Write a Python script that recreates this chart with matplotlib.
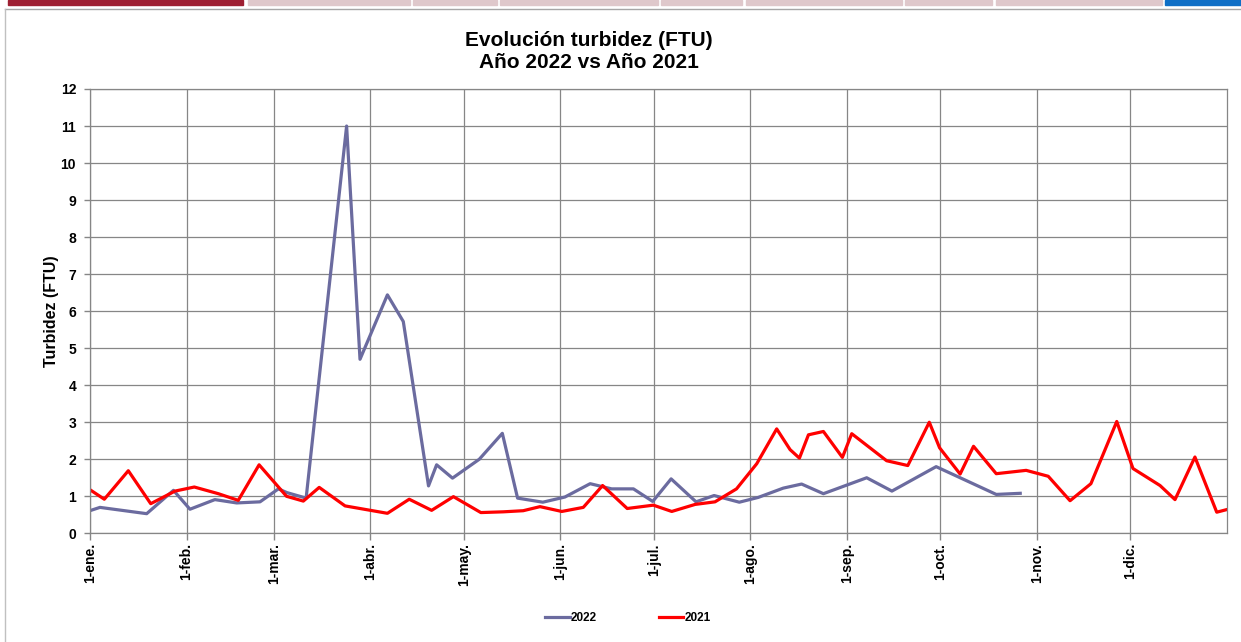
import matplotlib
matplotlib.use("Agg")
import matplotlib.pyplot as plt
from matplotlib.patches import Rectangle
from matplotlib.lines import Line2D

# day of year (0 = 1-ene.) and turbidity readings (FTU)
days_2022 = [0.3, 3.2, 18.2, 26.8, 32.1, 40.1, 47.1, 54.6, 60.5, 63.2, 69.4,
             82.4, 86.7, 95.5, 100.6, 108.7, 111.3, 116.4, 125.0, 132.4,
             137.3, 145.4, 152.5, 160.6, 167.5, 174.5, 180.7, 186.6, 194.6,
             200.4, 208.5, 214.6, 222.6, 228.5, 235.5, 249.4, 257.5, 271.7,
             291.0, 298.7]
turb_2022 = [0.62, 0.70, 0.53, 1.16, 0.65, 0.91, 0.82, 0.85, 1.20, 1.10, 0.95,
             11.0, 4.70, 6.44, 5.72, 1.28, 1.85, 1.49, 2.00, 2.70,
             0.95, 0.84, 0.98, 1.34, 1.20, 1.20, 0.86, 1.47, 0.85,
             1.02, 0.84, 0.97, 1.22, 1.33, 1.07, 1.50, 1.14, 1.80,
             1.05, 1.08]

days_2021 = [0.3, 4.6, 12.3, 19.5, 27.3, 33.5, 41.2, 47.6, 54.3, 63.1, 68.5,
             73.6, 81.9, 95.5, 102.5, 109.7, 116.7, 125.5, 132.7, 139.1,
             144.5, 151.5, 158.4, 164.6, 172.5, 180.9, 186.8, 194.3, 200.7,
             207.6, 214.1, 220.5, 224.8, 227.8, 230.7, 235.5, 241.6, 244.6,
             255.8, 262.6, 269.5, 272.8, 279.4, 283.7, 291.0, 300.6, 307.7,
             314.7, 321.4, 329.7, 334.9, 343.6, 348.4, 354.8, 361.8, 365.0]
turb_2021 = [1.16, 0.92, 1.69, 0.80, 1.14, 1.25, 1.07, 0.89, 1.85, 1.00, 0.87,
             1.24, 0.74, 0.54, 0.92, 0.62, 0.99, 0.56, 0.58, 0.61,
             0.72, 0.59, 0.70, 1.29, 0.67, 0.76, 0.59, 0.78, 0.85,
             1.20, 1.88, 2.82, 2.26, 2.03, 2.66, 2.75, 2.05, 2.69,
             1.96, 1.83, 3.00, 2.31, 1.60, 2.35, 1.61, 1.70, 1.54,
             0.88, 1.34, 3.02, 1.75, 1.29, 0.91, 2.06, 0.57, 0.64]

month_starts = [0, 31, 59, 90, 120, 151, 181, 212, 243, 273, 304, 334]
month_labels = ["1-ene.", "1-feb.", "1-mar.", "1-abr.", "1-may.", "1-jun.",
                "1-jul.", "1-ago.", "1-sep.", "1-oct.", "1-nov.", "1-dic."]

plt.rcParams['font.family'] = ['Liberation Sans', 'DejaVu Sans']
plt.rcParams['font.weight'] = 'bold'

W, H = 1241, 642
fig = plt.figure(figsize=(W / 100, H / 100), dpi=100)
fig.patch.set_facecolor("white")

# sheet tabs strip along the top edge
tabs = [(8, 243, "#9e1f32"), (248, 410, "#dfc8cb"), (413, 497, "#dfc8cb"),
        (500, 658, "#dfc8cb"), (661, 742, "#dfc8cb"), (746, 902, "#dfc8cb"),
        (905, 992, "#dfc8cb"), (996, 1162, "#dfc8cb"), (1165, 1241, "#0f6fc6")]
for x0, x1, col in tabs:
    fig.patches.append(Rectangle((x0 / W, 1 - 5 / H), (x1 - x0) / W, 5 / H,
                                 transform=fig.transFigure, color=col))
fig.lines.append(Line2D([5 / W, 1], [1 - 8.5 / H, 1 - 8.5 / H],
                        transform=fig.transFigure, color="#a6a6a6", lw=1))
fig.lines.append(Line2D([5 / W, 5 / W], [0, 1 - 8.5 / H],
                        transform=fig.transFigure, color="#c0c0c0", lw=1))

ax = fig.add_axes([90 / W, 1 - 533.3 / H, (1226.7 - 90) / W, (533.3 - 89) / H])

ax.plot(days_2022, turb_2022, color="#6b6b9f", lw=2.3, label="2022")
ax.plot(days_2021, turb_2021, color="#ff0000", lw=2.3, label="2021")

ax.set_xlim(0, 365)
ax.set_ylim(0, 12)
ax.set_yticks(range(0, 13))
ax.set_xticks(month_starts)
ax.set_xticklabels(month_labels, rotation=90, fontsize=10, fontweight='bold')
ax.tick_params(axis='y', labelsize=10, length=4, width=1, color="#868686", pad=6)
ax.tick_params(axis='x', length=5, width=1, color="#868686", pad=2)
ax.grid(True, color="#868686", lw=0.9)
ax.set_axisbelow(True)
for s in ax.spines.values():
    s.set_color("#868686")
    s.set_linewidth(0.9)

ax.set_ylabel("Turbidez (FTU)", fontsize=11.5, fontweight='bold', labelpad=1)

fig.text(589 / W, 1 - 51.5 / H, "Evolución turbidez (FTU)\nAño 2022 vs Año 2021",
         ha="center", va="center", fontsize=15, fontweight='bold',
         linespacing=1.25)

fig.legend(loc="center", bbox_to_anchor=(628 / W, 1 - 618 / H), ncol=2,
           frameon=False, prop={'size': 8.5, 'weight': 'bold'},
           handlelength=2.1, handletextpad=0.1, columnspacing=5.2)

fig.savefig("out.png", dpi=100)
